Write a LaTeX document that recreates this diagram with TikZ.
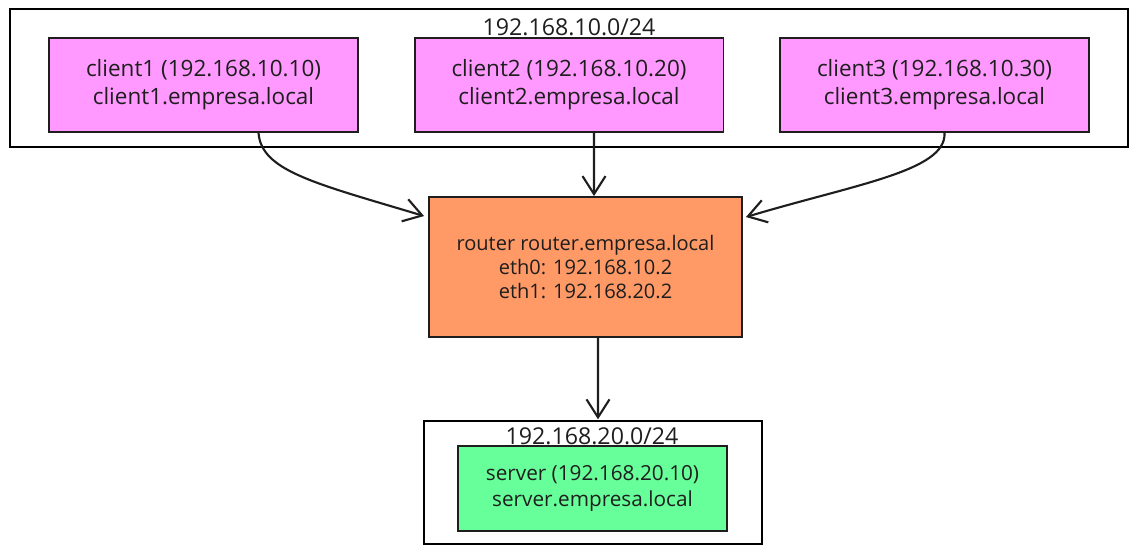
\documentclass[tikz,border=0pt]{standalone}
\usepackage{fontspec}
\setmainfont{Open Sans}
\usetikzlibrary{arrows.meta,positioning,calc}
\definecolor{ink}{HTML}{1E1E1E}
\definecolor{cpink}{HTML}{FF99FF}
\definecolor{corange}{HTML}{FF9966}
\definecolor{cgreen}{HTML}{66FF99}

\begin{document}
\begin{tikzpicture}[
  x=0.02cm, y=-0.02cm,
  host/.style={draw=ink, line width=1.1pt, minimum width=6.18cm, minimum height=1.88cm, align=center, text=ink, font=\fontsize{12.8}{16}\selectfont},
  net/.style={draw=black, line width=0.8pt},
  netlabel/.style={text=ink, font=\fontsize{13.2}{14}\selectfont, inner sep=0pt},
  arr/.style={-{Straight Barb[length=3.6mm,width=4.6mm]}, line width=1.2pt, ink},
]
  \useasboundingbox (0,0) rectangle (1138,554);

  % Network 192.168.10.0/24
  \node[net, minimum width=22.36cm, minimum height=2.76cm] (net1) at (569,78) {};
  \node[netlabel] (lbl1) at (569,27) {192.168.10.0/24};

  \node[host, fill=cpink] (c1) at (203.5,85) {client1 (192.168.10.10)\\client1.empresa.local};
  \node[host, fill=cpink] (c2) at (569,85) {client2 (192.168.10.20)\\client2.empresa.local};
  \node[host, fill=cpink] (c3) at (934.5,85) {client3 (192.168.10.30)\\client3.empresa.local};

  % Router
  \node[host, fill=corange, minimum width=6.26cm, minimum height=2.8cm, font=\fontsize{11.4}{13.8}\selectfont] (router) at (585.5,267)
    {router router.empresa.local\\eth0: 192.168.10.2\\eth1: 192.168.20.2};

  % Network 192.168.20.0/24
  \node[net, minimum width=6.76cm, minimum height=2.46cm] (net2) at (593,482.5) {};
  \node[netlabel] (lbl2) at (592,436) {192.168.20.0/24};
  \node[host, fill=cgreen, minimum width=5.38cm, minimum height=1.7cm, font=\fontsize{11.8}{14.8}\selectfont] (srv) at (592.5,488.5)
    {server (192.168.20.10)\\server.empresa.local};

  % Links
  \draw[arr] ($(c1.south)+(55,0)$) .. controls +(3,38) and +(-110,-33) .. ($(router.north west)+(-4,20)$);
  \draw[arr] ($(c2.south)+(25,0)$) -- ($(router.north)+(8.5,0)$);
  \draw[arr] ($(c3.south)+(10,0)$) .. controls +(2,38) and +(110,-33) .. ($(router.north east)+(3,21)$);
  \draw[arr] ($(router.south)+(12.5,0)$) -- ($(net2.north)+(5,-1)$);
\end{tikzpicture}
\end{document}
